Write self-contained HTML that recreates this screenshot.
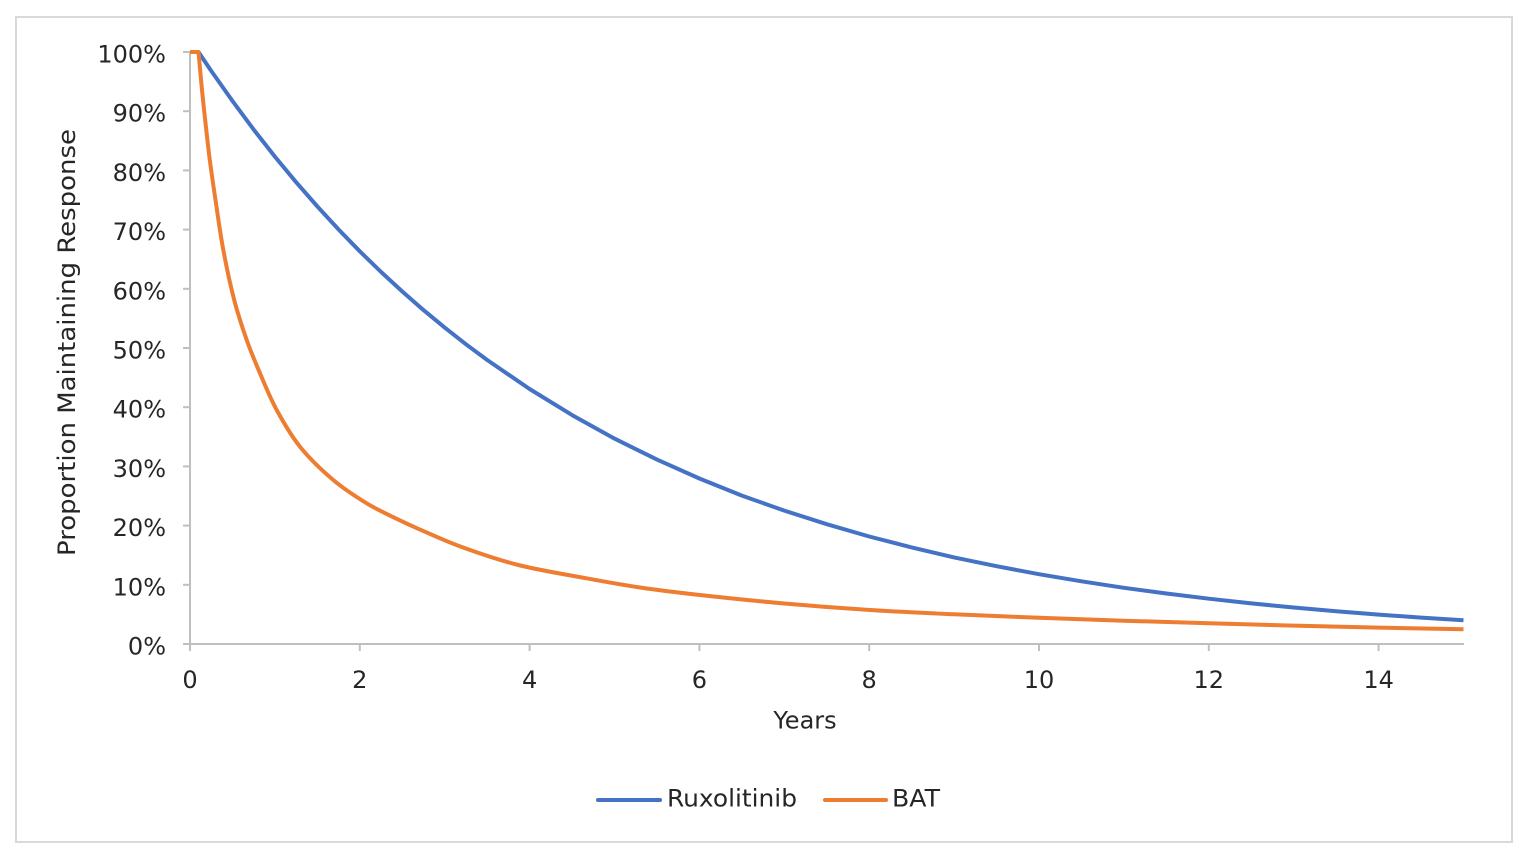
<!DOCTYPE html>
<html>
<head>
<meta charset="utf-8">
<style>
  html, body { margin: 0; padding: 0; background: #ffffff; }
  body { width: 1530px; height: 858px; overflow: hidden; }
  svg { display: block; }
  text { font-family: "DejaVu Sans", "Liberation Sans", sans-serif; fill: #262626; }
</style>
</head>
<body>
<svg width="1530" height="858" viewBox="0 0 1530 858" xmlns="http://www.w3.org/2000/svg">
  <rect x="0" y="0" width="1530" height="858" fill="#ffffff"/>
  <rect x="16" y="17" width="1496" height="825" fill="#ffffff" stroke="#d9d9d9" stroke-width="2"/>

  <!-- axes -->
  <g stroke="#bfbfbf" stroke-width="2" fill="none">
    <line x1="190" y1="52" x2="190" y2="645"/>
    <line x1="183" y1="644" x2="1464" y2="644"/>
    <!-- y ticks -->
    <line x1="183" y1="52" x2="190" y2="52"/>
    <line x1="183" y1="111.2" x2="190" y2="111.2"/>
    <line x1="183" y1="170.4" x2="190" y2="170.4"/>
    <line x1="183" y1="229.6" x2="190" y2="229.6"/>
    <line x1="183" y1="288.8" x2="190" y2="288.8"/>
    <line x1="183" y1="348" x2="190" y2="348"/>
    <line x1="183" y1="407.2" x2="190" y2="407.2"/>
    <line x1="183" y1="466.4" x2="190" y2="466.4"/>
    <line x1="183" y1="525.6" x2="190" y2="525.6"/>
    <line x1="183" y1="584.8" x2="190" y2="584.8"/>
    <!-- x ticks -->
    <line x1="190" y1="644" x2="190" y2="651"/>
    <line x1="359.8" y1="644" x2="359.8" y2="651"/>
    <line x1="529.6" y1="644" x2="529.6" y2="651"/>
    <line x1="699.4" y1="644" x2="699.4" y2="651"/>
    <line x1="869.2" y1="644" x2="869.2" y2="651"/>
    <line x1="1039" y1="644" x2="1039" y2="651"/>
    <line x1="1208.8" y1="644" x2="1208.8" y2="651"/>
    <line x1="1378.6" y1="644" x2="1378.6" y2="651"/>
  </g>

  <!-- y tick labels -->
  <g font-size="24" text-anchor="end">
    <text x="166" y="62.5">100%</text>
    <text x="166" y="121.7">90%</text>
    <text x="166" y="180.9">80%</text>
    <text x="166" y="240.1">70%</text>
    <text x="166" y="299.3">60%</text>
    <text x="166" y="358.5">50%</text>
    <text x="166" y="417.7">40%</text>
    <text x="166" y="476.9">30%</text>
    <text x="166" y="536.1">20%</text>
    <text x="166" y="595.3">10%</text>
    <text x="166" y="654.5">0%</text>
  </g>

  <!-- x tick labels -->
  <g font-size="24" text-anchor="middle">
    <text x="190" y="688">0</text>
    <text x="359.8" y="688">2</text>
    <text x="529.6" y="688">4</text>
    <text x="699.4" y="688">6</text>
    <text x="869.2" y="688">8</text>
    <text x="1039" y="688">10</text>
    <text x="1208.8" y="688">12</text>
    <text x="1378.6" y="688">14</text>
  </g>

  <!-- axis titles -->
  <text x="805" y="728.5" font-size="24" text-anchor="middle">Years</text>
  <text transform="translate(75,342.5) rotate(-90)" font-size="24" text-anchor="middle" textLength="427" lengthAdjust="spacingAndGlyphs">Proportion Maintaining Response</text>

  <!-- series -->
  <polyline fill="none" stroke="#4472c4" stroke-width="4" stroke-linejoin="round" stroke-linecap="butt"
    points="198.5,52 211.2,70.9 232.5,101.0 253.7,129.6 274.9,156.6 296.1,182.2 317.4,206.5 338.6,229.5 359.8,251.3 381.1,272.0 402.3,291.5 423.5,310.1 444.7,327.6 466.0,344.3 487.2,360.0 529.6,389.0 572.1,415.1 614.5,438.6 657.0,459.6 699.4,478.5 741.9,495.6 784.3,510.6 826.8,524.2 869.2,536.5 911.7,547.4 954.1,557.4 996.6,566.2 1039.0,574.2 1081.5,581.3 1123.9,587.8 1166.4,593.5 1208.8,598.7 1251.3,603.4 1293.7,607.5 1336.2,611.3 1378.6,614.6 1421.1,617.6 1463.5,620.3"/>
  <path fill="none" stroke="#ed7d31" stroke-width="4" stroke-linejoin="round" stroke-linecap="butt"
    d="M190,52 L198.5,52
       C199.08,58.33 200.83,78.17 202,90
       C203.17,101.83 204.2,111.33 205.5,123
       C206.8,134.67 208.13,147.17 209.8,160
       C211.47,172.83 213.25,185 215.5,200
       C217.75,215 220.18,233.33 223.3,250
       C226.42,266.67 230.3,285 234.2,300
       C238.1,315 242.4,327.78 246.7,340
       C251.0,352.22 255,361.63 260,373.3
       C265,384.97 270.03,397.77 276.7,410
       C283.37,422.23 290.57,435.03 300,446.7
       C309.43,458.37 322.18,470.57 333.3,480
       C344.42,489.43 356.13,496.83 366.7,503.3
       C377.27,509.77 388.1,514.55 396.7,518.8
       C405.3,523.05 407.47,524.1 418.3,528.8
       C429.13,533.5 445.03,540.97 461.7,547
       C478.37,553.03 497.78,559.83 518.3,565
       C538.82,570.17 564.52,574.25 584.8,578
       C605.08,581.75 620.8,584.67 640,587.5
       C659.2,590.33 675.95,592.33 700,595
       C724.05,597.67 755.95,601 784.3,603.5
       C812.65,606 841.8,608.2 870.1,610
       C898.4,611.8 925.95,613.02 954.1,614.3
       C982.25,615.58 1010.7,616.63 1039,617.7
       C1067.3,618.77 1095.6,619.77 1123.9,620.7
       C1152.2,621.63 1180.5,622.48 1208.8,623.3
       C1237.1,624.12 1265.4,624.88 1293.7,625.6
       C1322.0,626.32 1350.3,626.98 1378.6,627.6
       C1406.9,628.22 1449.35,629.02 1463.5,629.3"/>

  <!-- legend -->
  <line x1="598" y1="800" x2="660" y2="800" stroke="#4472c4" stroke-width="4" stroke-linecap="round"/>
  <text x="667" y="806.5" font-size="24" textLength="130" lengthAdjust="spacingAndGlyphs">Ruxolitinib</text>
  <line x1="825" y1="800" x2="886" y2="800" stroke="#ed7d31" stroke-width="4" stroke-linecap="round"/>
  <text x="892" y="806.5" font-size="24" textLength="48" lengthAdjust="spacingAndGlyphs">BAT</text>
</svg>
</body>
</html>
